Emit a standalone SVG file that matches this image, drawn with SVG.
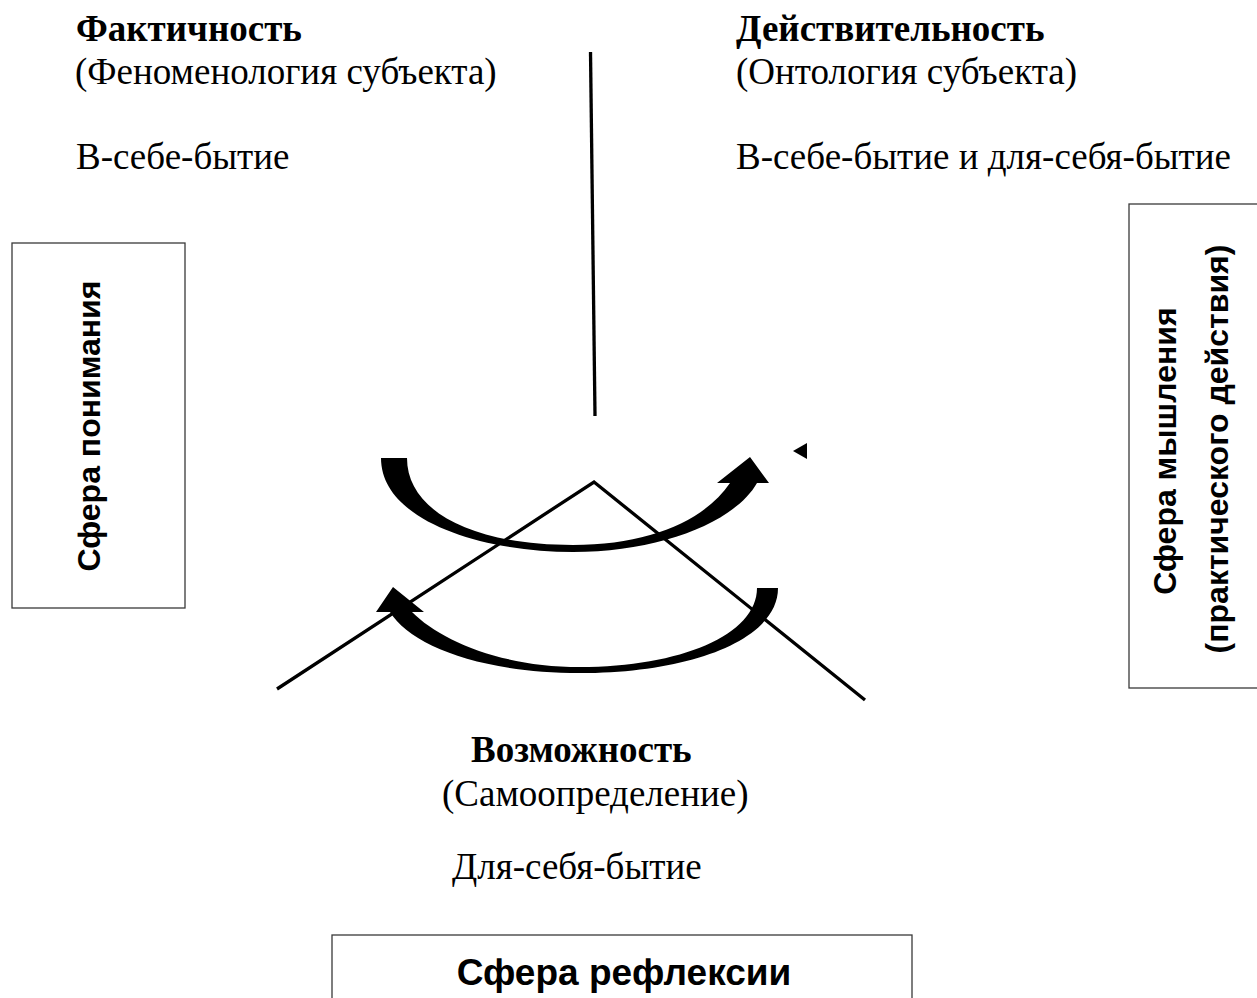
<svg xmlns="http://www.w3.org/2000/svg" width="1257" height="998" viewBox="0 0 1257 998">
<style>
.serif{font-family:"Liberation Serif","Times New Roman",serif;font-size:37px;fill:#000}
.b{font-weight:bold}
.sans{font-family:"Liberation Sans",Arial,sans-serif;font-weight:bold;fill:#000}
.box{fill:#fff;stroke:#3a3a3a;stroke-width:1.3}
.ln{stroke:#000;stroke-width:3.3;fill:none;stroke-linecap:butt}
</style>
<rect width="1257" height="998" fill="#fff"/>
<g id="faktichnost">
<text class="serif b" x="76" y="41">Фактичность</text>
<text class="serif" x="75" y="84">(Феноменология субъекта)</text>
<text class="serif" x="76" y="169">В-себе-бытие</text>
</g>
<g id="deistvitelnost">
<text class="serif b" x="736" y="41">Действительность</text>
<text class="serif" x="736" y="84">(Онтология субъекта)</text>
<text class="serif" x="736" y="169">В-себе-бытие и для-себя-бытие</text>
</g>
<g id="vozmozhnost">
<text class="serif b" x="471" y="762">Возможность</text>
<text class="serif" x="442" y="806">(Самоопределение)</text>
<text class="serif" x="452" y="879">Для-себя-бытие</text>
</g>
<g id="sfera-ponimaniya">
<rect class="box" x="12" y="243" width="173" height="365"/>
<text class="sans" font-size="32" text-anchor="middle" transform="translate(100,426) rotate(-90)">Сфера понимания</text>
</g>
<g id="sfera-myshleniya">
<rect class="box" x="1129" y="204" width="140" height="484"/>
<text class="sans" font-size="32" text-anchor="middle" transform="translate(1176,451) rotate(-90)">Сфера мышления</text>
<text class="sans" font-size="32" text-anchor="middle" transform="translate(1228,449) rotate(-90)">(практического действия)</text>
</g>
<g id="sfera-refleksii">
<rect class="box" x="332" y="935" width="580" height="80"/>
<text class="sans" font-size="37" text-anchor="middle" x="624" y="985">Сфера рефлексии</text>
</g>
<g id="connectors">
<line class="ln" x1="590.5" y1="52" x2="595" y2="416"/>
<polyline class="ln" points="277,689 594,482 865,700"/>
<path fill="#000" d="M381,458 C381,520 480,552 573,552 C660,552 735,522 757,483 L769,483 L750,457 L717,483 L730,483 C705,520 650,545 573,545 C470,545 407,510 407,458 Z"/>
<path fill="#000" d="M778,588 C778,640 690,673 580,673 C480,673 410,645 390,612 L376,612 L393,587 L424,612 L412,612 C440,640 500,667 580,667 C680,667 757,635 757,588 Z"/>
<polygon fill="#000" points="793,451 807,443 807,459"/>
</g>
</svg>
